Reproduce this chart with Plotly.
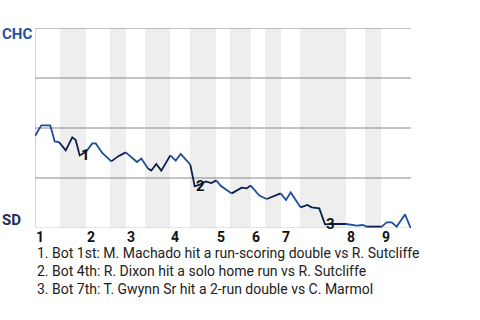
import plotly.graph_objects as go

# ---- data ----
progress = [0, 6.3, 15.3, 19.7, 24, 30.7, 37.3, 40.7, 44.7, 51.3, 57.3, 60.7, 67.3, 76.3, 83,
            90.7, 98, 102, 106.3, 113, 116.3, 121.3, 126.3, 135.3, 140.7, 145.7, 151.3, 155.3,
            159.7, 164.7, 170.7, 176.3, 181.3, 186, 196.7, 206.7, 211.7, 215.7, 224.3, 231.7,
            240, 245.7, 251, 255.7, 265.7, 272.3, 276.7, 284.3, 290, 296.7, 311, 316.7, 321.7,
            327.7, 331.7, 346.7, 351.7, 356.7, 361.7, 370, 375.7]
chc_win = [46, 51.3, 51.3, 43.3, 43, 38.8, 45.3, 44, 36.3, 38.3, 42.3, 42.3, 37.5, 33.3, 35.8,
           37.8, 35, 33, 34.7, 29.7, 28.7, 32, 28.7, 36.3, 33.7, 37, 33.7, 31.7,
           20.8, 21.7, 23.3, 22.5, 23.8, 21, 17.3, 20.2, 19.8, 21.2, 16.2, 14.5,
           16.2, 17.3, 14, 17.8, 10.3, 11.5, 10.3, 9.8, 1.8, 2, 2, 1.5, 1.2,
           1.5, 0.7, 0.7, 2.8, 2.8, 0.7, 6.8, 0]

innings = ["1", "2", "3", "4", "5", "6", "7", "8", "9"]
inning_start = [0, 51, 91, 135, 181, 216, 246, 311, 346]
bottom_start = [25, 75, 110, 155, 195, 230, 265, 330]
bottom_end = [51, 91, 135, 181, 216, 246, 311, 346]
game_end = 376

event_ids = ["1", "2", "3"]
event_progress = [44.7, 159.7, 290]
event_value = [36.3, 20.8, 1.8]
event_notes = [
    "1. Bot 1st: M. Machado hit a run-scoring double vs R. Sutcliffe",
    "2. Bot 4th: R. Dixon hit a solo home run vs R. Sutcliffe",
    "3. Bot 7th: T. Gwynn Sr hit a 2-run double vs C. Marmol",
]
grid_values = [25, 50, 75, 100]

TOP_COLOR = "#1f4e9e"
BOT_COLOR = "#0c1f4a"

fig = go.Figure()

def in_bottom(x):
    return any(s <= x < e for s, e in zip(bottom_start, bottom_end))

# group consecutive segments by half-inning colour
segs = []
for i in range(len(progress) - 1):
    mid = (progress[i] + progress[i + 1]) / 2
    col = BOT_COLOR if in_bottom(mid) else TOP_COLOR
    if segs and segs[-1][0] == col:
        segs[-1][1].append(i + 1)
    else:
        segs.append([col, [i, i + 1]])
for col, idx in segs:
    fig.add_trace(go.Scatter(
        x=[progress[k] for k in idx], y=[chc_win[k] for k in idx],
        mode="lines", line=dict(color=col, width=1.8), hoverinfo="skip"))

shapes = []
for s, e in zip(bottom_start, bottom_end):
    shapes.append(dict(type="rect", xref="x", yref="y", x0=s, x1=e, y0=0, y1=100,
                       fillcolor="#eeeeee", line=dict(width=0), layer="below"))
for g in grid_values:
    shapes.append(dict(type="line", xref="x", yref="y", x0=0, x1=game_end, y0=g, y1=g,
                       line=dict(color="#888888", width=1), layer="below"))
shapes.append(dict(type="line", xref="x", yref="y", x0=0, x1=0, y0=0, y1=100,
                   line=dict(color="#aaaaaa", width=1), layer="below"))
shapes.append(dict(type="line", xref="x", yref="y", x0=0, x1=game_end, y0=0, y1=0,
                   line=dict(color="#cccccc", width=1), layer="below"))

ann = []
ann.append(dict(text="<b>CHC</b>", xref="paper", yref="y", x=-35 / 376, y=100, xanchor="left",
                yanchor="middle", yshift=-6, showarrow=False,
                font=dict(size=15, color="#2152a3")))
ann.append(dict(text="<b>SD</b>", xref="paper", yref="y", x=-35 / 376, y=0, xanchor="left",
                yanchor="middle", yshift=8.5, showarrow=False,
                font=dict(size=15, color="#1b2b5b")))
for lab, s in zip(innings, inning_start):
    ann.append(dict(text="<b>" + lab + "</b>", xref="x", yref="paper", x=s, y=0,
                    xanchor="left", yanchor="top", xshift=-1, yshift=1, showarrow=False,
                    font=dict(size=14, color="#111111")))
for lab, ex, ev in zip(event_ids, event_progress, event_value):
    ann.append(dict(text="<b>" + lab + "</b>", xref="x", yref="y", x=ex, y=ev,
                    xanchor="left", yanchor="middle", xshift=-1, showarrow=False,
                    font=dict(size=15, color="#111111")))
for i, note in enumerate(event_notes):
    ann.append(dict(text=note, xref="paper", yref="paper", x=0, y=-0.125 - 0.09 * i,
                    xanchor="left", yanchor="middle", showarrow=False,
                    font=dict(size=14, color="#222222")))

fig.update_layout(
    width=480, height=320,
    margin=dict(l=35, r=69, t=28, b=92),
    plot_bgcolor="white", paper_bgcolor="white",
    showlegend=False,
    font=dict(family="Roboto"),
    xaxis=dict(range=[0, game_end], visible=False, fixedrange=True),
    yaxis=dict(range=[0, 100], visible=False, fixedrange=True),
    shapes=shapes, annotations=ann,
)

fig.write_html("out.html", config={"displayModeBar": False})
